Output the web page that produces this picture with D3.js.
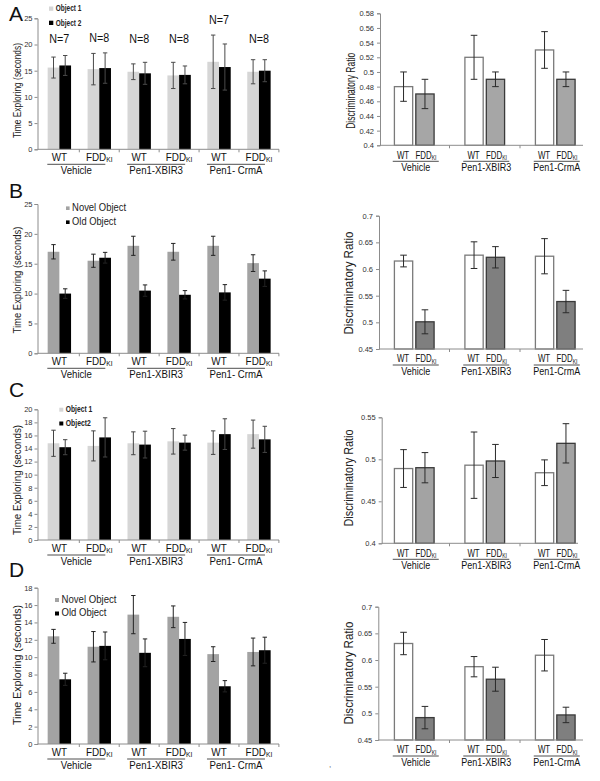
<!DOCTYPE html>
<html><head><meta charset="utf-8">
<script src="https://cdn.jsdelivr.net/npm/d3@7"></script>
<style>
html,body{margin:0;padding:0;background:#fff;}
svg{display:block;}
text{font-family:"Liberation Sans",Arial,Helvetica,sans-serif;}
</style></head>
<body>
<svg id="chart" width="600" height="781"></svg>
<script>
// ---------- DATA ----------
const genotypes = ["WT","FDD","WT","FDD","WT","FDD"];
const groupsLeft = ["Vehicle","Pen1-XBIR3","Pen1- CrmA"];
const groupsRight = ["Vehicle","Pen1-XBIR3","Pen1-CrmA"];

// Panel A (left)
const aObj1 = [15.6,15.3,14.8,14.1,16.7,14.8];
const aObj1Err = [2.0,3.0,1.5,2.5,5.1,2.3];
const aObj2 = [16.0,15.5,14.5,14.2,15.7,15.0];
const aObj2Err = [1.9,2.9,2.1,1.7,4.4,2.1];
const aN = ["N=7","N=8","N=8","N=8","N=7","N=8"];
// Panel A (right)
const aWT = [0.48,0.52,0.53];
const aWTErr = [0.02,0.03,0.025];
const aFDD = [0.47,0.49,0.49];
const aFDDErr = [0.02,0.01,0.01];

// Panel B (left)
const bNovel = [17.0,15.5,18.0,17.0,18.0,15.1];
const bNovelErr = [1.2,1.1,1.6,1.4,1.6,1.4];
const bOld = [10.0,16.0,10.5,9.8,10.2,12.5];
const bOldErr = [0.8,0.9,0.95,0.7,1.3,1.3];
// Panel B (right)
const bWT = [0.615,0.626,0.624];
const bWTErr = [0.011,0.025,0.033];
const bFDD = [0.501,0.622,0.539];
const bFDDErr = [0.0225,0.02,0.021];

// Panel C (left)
const cObj1 = [14.8,14.4,14.8,15.1,14.9,16.2];
const cObj1Err = [2.0,2.3,1.75,1.95,1.8,2.15];
const cObj2 = [14.2,15.7,14.6,14.9,16.2,15.4];
const cObj2Err = [1.15,3.0,2.05,1.15,2.35,2.0];
// Panel C (right)
const cWT = [0.489,0.493,0.484];
const cWTErr = [0.0225,0.0395,0.0153];
const cFDD = [0.490,0.498,0.519];
const cFDDErr = [0.018,0.0197,0.0234];

// Panel D (left)
const dNovel = [12.4,11.2,14.9,14.65,10.35,10.6];
const dNovelErr = [0.8,1.75,2.2,1.25,0.85,1.6];
const dOld = [7.45,11.3,10.5,12.1,6.65,10.8];
const dOldErr = [0.7,1.6,1.6,1.9,0.65,1.5];
// Panel D (right)
const dWT = [0.631,0.5875,0.609];
const dWTErr = [0.021,0.019,0.0295];
const dFDD = [0.492,0.564,0.497];
const dFDDErr = [0.021,0.0225,0.0145];

// Tick values
const ticksLeftAB = [0,5,10,15,20,25];
const ticksLeftC = [0,2,4,6,8,10,12,14,16,18,20];
const ticksLeftD = [0,2,4,6,8,10,12,14,16,18];
const ticksRightA = [0.4,0.42,0.44,0.46,0.48,0.5,0.52,0.54,0.56,0.58];
const ticksRightBD = [0.45,0.5,0.55,0.6,0.65,0.7];
const ticksRightC = [0.4,0.45,0.5,0.55];

// ---------- DRAWING ----------
const svg = d3.select("#chart");
const AXIS = "#8c8c8c";

function fddLabel(sel, big, small){
  sel.append("tspan").text("FDD").attr("font-size", big);
  sel.append("tspan").text("KI").attr("font-size", small).attr("dy", 1.5);
}

function drawLeft(cfg){
  const g = svg.append("g");
  const y = d3.scaleLinear().domain(cfg.domain).range(cfg.yRange);
  const x = d3.scaleBand().domain(d3.range(6)).range([39.4, 278.9]).paddingInner(0.414).paddingOuter(0.207);
  const xs = d3.scaleBand().domain([0,1]).range([0, x.bandwidth()]);
  const y0 = y(cfg.domain[0]);

  const series = [
    {vals: cfg.s1, err: cfg.e1, color: cfg.c1, k:0},
    {vals: cfg.s2, err: cfg.e2, color: cfg.c2, k:1}
  ];
  series.forEach(s => {
    g.selectAll(null).data(s.vals).enter().append("rect")
      .attr("x", (d,i) => x(i) + xs(s.k))
      .attr("width", xs.bandwidth())
      .attr("y", d => y(d))
      .attr("height", d => y0 - y(d))
      .attr("fill", s.color);
  });
  series.forEach(s => {
    s.vals.forEach((v,i) => {
      const cx = x(i) + xs(s.k) + xs.bandwidth()/2;
      const eg = g.append("g").attr("stroke", cfg.errColor).attr("stroke-width", 1);
      eg.append("line").attr("x1",cx).attr("x2",cx).attr("y1",y(v+s.err[i])).attr("y2",y(v-s.err[i]));
      eg.append("line").attr("x1",cx-2.2).attr("x2",cx+2.2).attr("y1",y(v+s.err[i])).attr("y2",y(v+s.err[i]));
      eg.append("line").attr("x1",cx-2.2).attr("x2",cx+2.2).attr("y1",y(v-s.err[i])).attr("y2",y(v-s.err[i]));
    });
  });

  // y axis
  const ax = g.append("g").attr("transform", `translate(37.5,0)`)
    .call(d3.axisLeft(y).tickValues(cfg.ticks).tickSize(3).tickPadding(2).tickFormat(d3.format("d")));
  ax.select(".domain").attr("stroke", AXIS);
  ax.selectAll(".tick line").attr("stroke", AXIS);
  ax.selectAll(".tick text").attr("font-size", 7.5).attr("fill","#333")
    .attr("font-family","'Liberation Sans',Arial,sans-serif");

  // x axis line + category ticks
  g.append("line").attr("x1",37.5).attr("x2",279).attr("y1",y0).attr("y2",y0).attr("stroke",AXIS);
  d3.range(1,7).forEach(i => {
    const bx = 39.4 + x.step()*i;
    g.append("line").attr("x1",bx).attr("x2",bx).attr("y1",y0).attr("y2",y0+3).attr("stroke",AXIS);
  });

  // category labels
  genotypes.forEach((gt,i) => {
    const cx = x(i) + x.bandwidth()/2;
    const t = g.append("g").attr("transform",`translate(${cx},${y0+11.5}) scale(0.9,1)`)
      .append("text").attr("text-anchor","middle").attr("fill","#111").attr("font-size",11);
    if(gt === "WT") t.text("WT");
    else fddLabel(t, 11, 7.5);
  });
  groupsLeft.forEach((gn,j) => {
    const c0 = x(2*j) + x.bandwidth()/2, c1 = x(2*j+1) + x.bandwidth()/2;
    const mid = (c0+c1)/2 - 3;
    g.append("line").attr("x1",mid-29).attr("x2",mid+29).attr("y1",y0+15).attr("y2",y0+15).attr("stroke","#222").attr("stroke-width",0.8);
    g.append("g").attr("transform",`translate(${mid},${y0+24.5}) scale(0.92,1)`)
      .append("text").attr("text-anchor","middle").attr("font-size",10.5).attr("fill","#111").text(gn);
  });

  // y title
  g.append("text").attr("transform",`translate(21,${cfg.titleY}) rotate(-90)`)
    .attr("text-anchor","middle").attr("font-size",11.5).attr("fill","#222")
    .attr("textLength", cfg.titleLen).attr("lengthAdjust","spacingAndGlyphs")
    .text("Time Exploring (seconds)");

  // legend
  cfg.legend.forEach((L,k) => {
    g.append("rect").attr("x",L.x).attr("y",L.y-L.sq-0.5).attr("width",L.sq).attr("height",L.sq).attr("fill", k===0?cfg.c1:cfg.c2);
    g.append("text").attr("x",L.x+L.sq+2.5).attr("y",L.y).attr("font-size",L.fs)
      .attr("font-family",L.font).attr("font-weight",L.fw).attr("fill","#222")
      .attr("textLength",L.len).attr("lengthAdjust","spacingAndGlyphs").text(L.label);
  });

  // panel letter
  g.append("text").attr("x",cfg.letterX).attr("y",cfg.letterY).attr("font-size",21).attr("fill","#111").text(cfg.letter);
  return {g, x, y};
}

function drawRight(cfg){
  const g = svg.append("g");
  const y = d3.scaleLinear().domain(cfg.domain).range(cfg.yRange);
  const x = d3.scaleBand().domain(d3.range(3)).range([379, 590.5]).paddingInner(0.42).paddingOuter(0.21);
  const xs = d3.scaleBand().domain([0,1]).range([0, x.bandwidth()]).paddingInner(0.09);
  const y0 = y(cfg.domain[0]);

  const series = [
    {vals: cfg.wt, err: cfg.wtErr, fill:"#ffffff", stroke:"#7a7a7a", k:0},
    {vals: cfg.fdd, err: cfg.fddErr, fill: cfg.fddColor, stroke:"#3a3a3a", k:1}
  ];
  series.forEach(s => {
    g.selectAll(null).data(s.vals).enter().append("rect")
      .attr("x", (d,i) => x(i) + xs(s.k) + 0.6)
      .attr("width", xs.bandwidth() - 1.2)
      .attr("y", d => y(d))
      .attr("height", d => y0 - y(d))
      .attr("fill", s.fill).attr("stroke", s.stroke).attr("stroke-width",1.3);
  });
  series.forEach(s => {
    s.vals.forEach((v,i) => {
      const cx = x(i) + xs(s.k) + xs.bandwidth()/2;
      const eg = g.append("g").attr("stroke", "#2a2a2a").attr("stroke-width", 1);
      eg.append("line").attr("x1",cx).attr("x2",cx).attr("y1",y(v+s.err[i])).attr("y2",y(v-s.err[i]));
      eg.append("line").attr("x1",cx-3.3).attr("x2",cx+3.3).attr("y1",y(v+s.err[i])).attr("y2",y(v+s.err[i]));
      eg.append("line").attr("x1",cx-3.3).attr("x2",cx+3.3).attr("y1",y(v-s.err[i])).attr("y2",y(v-s.err[i]));
    });
  });

  const ax = g.append("g").attr("transform", `translate(${cfg.axisX},0)`)
    .call(d3.axisLeft(y).tickValues(cfg.ticks).tickSize(3).tickPadding(3).tickFormat(d => String(+d.toFixed(2))));
  ax.select(".domain").attr("stroke", AXIS);
  ax.selectAll(".tick line").attr("stroke", AXIS);
  ax.selectAll(".tick text").attr("font-size", 7.5).attr("fill","#333")
    .attr("font-family","'Liberation Sans',Arial,sans-serif");

  g.append("line").attr("x1",cfg.axisX).attr("x2",cfg.axisEnd).attr("y1",y0).attr("y2",y0).attr("stroke",AXIS);
  [1,2].forEach(i => {
    const bx = 379 + x.step()*i;
    g.append("line").attr("x1",bx).attr("x2",bx).attr("y1",y0).attr("y2",y0+3).attr("stroke",AXIS);
  });

  groupsRight.forEach((gn,j) => {
    ["WT","FDD"].forEach((gt,k) => {
      const cx = x(j) + xs(k) + xs.bandwidth()/2 + (k===1 ? 1 : -0.5);
      const t = g.append("g").attr("transform",`translate(${cx},${y0+13.3}) scale(0.72,1)`)
        .append("text").attr("text-anchor","middle").attr("fill","#111").attr("font-size",11);
      if(gt==="WT") t.text("WT");
      else fddLabel(t, 11, 7);
    });
    const mid = x(j) + x.bandwidth()/2 + 1.5;
    g.append("line").attr("x1",mid-23).attr("x2",mid+23).attr("y1",y0+16).attr("y2",y0+16).attr("stroke","#222").attr("stroke-width",0.8);
    g.append("g").attr("transform",`translate(${mid},${y0+25.8}) scale(0.9,1)`)
      .append("text").attr("text-anchor","middle").attr("font-size",10).attr("fill","#111").text(gn);
  });

  g.append("text").attr("transform",`translate(${cfg.titleX},${cfg.titleY}) rotate(-90)`)
    .attr("text-anchor","middle").attr("font-size",cfg.titleFs).attr("fill","#222")
    .attr("textLength", cfg.titleLen).attr("lengthAdjust","spacingAndGlyphs")
    .text("Discriminatory Ratio");
}

// ---- Panel A ----
const aLeft = drawLeft({
  domain:[0,25], yRange:[149.3,18.3], ticks:ticksLeftAB,
  s1:aObj1, e1:aObj1Err, s2:aObj2, e2:aObj2Err, c1:"#d6d6d6", c2:"#000000", errColor:"#4a4a4a",
  titleY:90.5, titleLen:95,
  legend:[
    {x:49, y:11.3, sq:4.3, label:"Object 1", fs:8.5, font:"Lato,'Open Sans',sans-serif", fw:"bold", len:25.5},
    {x:49, y:25.5, sq:4.3, label:"Object 2", fs:8.5, font:"Lato,'Open Sans',sans-serif", fw:"bold", len:25.5}
  ],
  letter:"A", letterX:9, letterY:20.7
});
// N labels above pairs
aN.forEach((n,i) => {
  const top = Math.max(aObj1[i]+aObj1Err[i], aObj2[i]+aObj2Err[i]);
  const v = Math.max(20.35, top + 2.1);
  aLeft.g.append("text").attr("x", aLeft.x(i)+aLeft.x.bandwidth()/2).attr("y", aLeft.y(v))
    .attr("text-anchor","middle").attr("font-size",12.5).attr("fill","#111")
    .attr("textLength",20).attr("lengthAdjust","spacingAndGlyphs").text(n);
});
drawRight({
  domain:[0.4,0.58], yRange:[145.3,13.3], ticks:ticksRightA, axisX:380, axisEnd:583,
  wt:aWT, wtErr:aWTErr, fdd:aFDD, fddErr:aFDDErr, fddColor:"#a6a6a6",
  titleX:355, titleY:90.8, titleFs:12, titleLen:76
});

// ---- Panel B ----
drawLeft({
  domain:[0,25], yRange:[353.3,204], ticks:ticksLeftAB,
  s1:bNovel, e1:bNovelErr, s2:bOld, e2:bOldErr, c1:"#a3a3a3", c2:"#000000", errColor:"#222",
  titleY:280, titleLen:107,
  legend:[
    {x:66, y:210.5, sq:3.6, label:"Novel Object", fs:10.5, font:"'Liberation Sans',Arial,sans-serif", fw:"normal", len:54},
    {x:66, y:224.5, sq:3.6, label:"Old Object", fs:10.5, font:"'Liberation Sans',Arial,sans-serif", fw:"normal", len:44}
  ],
  letter:"B", letterX:9, letterY:198
});
drawRight({
  domain:[0.45,0.7], yRange:[349,215.7], ticks:ticksRightBD, axisX:379, axisEnd:583,
  wt:bWT, wtErr:bWTErr, fdd:bFDD, fddErr:bFDDErr, fddColor:"#7f7f7f",
  titleX:353, titleY:283, titleFs:13.5, titleLen:103
});

// ---- Panel C ----
drawLeft({
  domain:[0,20], yRange:[540,409.3], ticks:ticksLeftC,
  s1:cObj1, e1:cObj1Err, s2:cObj2, e2:cObj2Err, c1:"#d6d6d6", c2:"#000000", errColor:"#444",
  titleY:480, titleLen:110,
  legend:[
    {x:59.3, y:412.2, sq:4, label:"Object 1", fs:8.5, font:"Lato,'Open Sans',sans-serif", fw:"bold", len:26.5},
    {x:59.3, y:426, sq:4, label:"Object2", fs:8.5, font:"Lato,'Open Sans',sans-serif", fw:"bold", len:25}
  ],
  letter:"C", letterX:9, letterY:397
});
drawRight({
  domain:[0.4,0.55], yRange:[543.3,417.3], ticks:ticksRightC, axisX:381.7, axisEnd:578,
  wt:cWT, wtErr:cWTErr, fdd:cFDD, fddErr:cFDDErr, fddColor:"#a3a3a3",
  titleX:353, titleY:478, titleFs:13.5, titleLen:97
});

// ---- Panel D ----
drawLeft({
  domain:[0,18], yRange:[744,587.7], ticks:ticksLeftD,
  s1:dNovel, e1:dNovelErr, s2:dOld, e2:dOldErr, c1:"#a3a3a3", c2:"#000000", errColor:"#222",
  titleY:665, titleLen:120,
  legend:[
    {x:55, y:602.5, sq:4, label:"Novel Object", fs:10.5, font:"'Liberation Sans',Arial,sans-serif", fw:"normal", len:55},
    {x:55, y:616, sq:4, label:"Old Object", fs:10.5, font:"'Liberation Sans',Arial,sans-serif", fw:"normal", len:45}
  ],
  letter:"D", letterX:9, letterY:577
});
drawRight({
  domain:[0.45,0.7], yRange:[740,606.7], ticks:ticksRightBD, axisX:378.3, axisEnd:583,
  wt:dWT, wtErr:dWTErr, fdd:dFDD, fddErr:dFDDErr, fddColor:"#7f7f7f",
  titleX:353, titleY:673, titleFs:13.5, titleLen:103
});

svg.append("text").attr("x",329).attr("y",767).attr("font-size",8).attr("fill","#555").text(",");
</script>
</body></html>
